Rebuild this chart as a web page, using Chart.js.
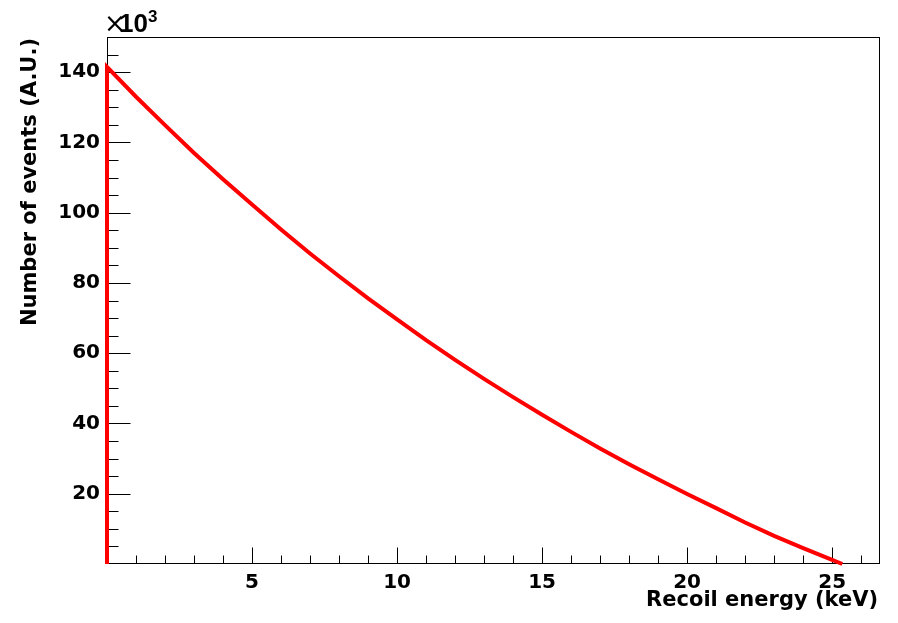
<!DOCTYPE html>
<html>
<head>
<meta charset="utf-8">
<script src="https://cdn.jsdelivr.net/npm/chart.js@4"></script>
<style>
  html, body { margin: 0; padding: 0; background: #fff; }
  #wrap { width: 898px; height: 623px; }
</style>
</head>
<body>
<div id="wrap"><canvas id="c" width="898" height="623"></canvas></div>
<script>
// ---- data ----
const energy = [0, 0, 1, 2, 3, 4, 5, 6, 7, 8, 9, 10, 11, 12, 13, 14, 15, 16, 17, 18, 19, 20, 21, 22, 23, 24, 25, 25.35];
const events = [0, 141.5, 133.0, 124.9, 117.0, 109.5, 102.3, 95.2, 88.4, 81.9, 75.6, 69.6, 63.7, 58.1, 52.7, 47.5, 42.5, 37.6, 32.9, 28.4, 24.1, 19.9, 15.9, 11.8, 8.0, 4.5, 1.2, 0];
const xTickLabels = [5, 10, 15, 20, 25];
const yTickLabels = [20, 40, 60, 80, 100, 120, 140];
const xRange = [0, 26.65];
const yRange = [0, 150];
const xMinorStep = 1;
const yMinorStep = 5;
const xTitle = 'Recoil energy (keV)';
const yTitle = 'Number of events (A.U.)';

const points = energy.map((e, i) => ({ x: e, y: events[i] }));

const frameAndTicks = {
  id: 'frameAndTicks',
  beforeDatasetsDraw(chart) {
    const { ctx, chartArea: a, scales: { x, y } } = chart;
    ctx.save();
    ctx.strokeStyle = '#000';
    ctx.lineWidth = 1;
    const L = Math.round(a.left) + 0.5, R = Math.round(a.right) - 0.5;
    const T = Math.round(a.top) + 0.5, B = Math.round(a.bottom) - 0.5;
    ctx.strokeRect(L, T, R - L, B - T);
    ctx.beginPath();
    for (let v = xRange[0] + xMinorStep; v <= xRange[1]; v += xMinorStep) {
      const px = Math.round(x.getPixelForValue(v)) + 0.5;
      const len = xTickLabels.includes(v) ? 16 : 8;
      ctx.moveTo(px, B); ctx.lineTo(px, B - len);
    }
    for (let v = yRange[0] + yMinorStep; v < yRange[1]; v += yMinorStep) {
      const py = Math.round(y.getPixelForValue(v)) + 0.5;
      const len = yTickLabels.includes(v) ? 23 : 11;
      ctx.moveTo(L, py); ctx.lineTo(L + len, py);
    }
    ctx.stroke();
    ctx.restore();
  },
  afterDraw(chart) {
    const { ctx, chartArea: a } = chart;
    ctx.save();
    ctx.fillStyle = '#000';
    // x title
    ctx.font = 'bold 21px "DejaVu Sans"';
    ctx.textAlign = 'right';
    ctx.textBaseline = 'alphabetic';
    ctx.fillText(xTitle, a.right - 2, 606);
    // y title
    ctx.save();
    ctx.translate(36, a.top + 1);
    ctx.rotate(-Math.PI / 2);
    ctx.textAlign = 'right';
    ctx.fillText(yTitle, 0, 0);
    ctx.restore();
    // x10^3 multiplier
    ctx.textAlign = 'left';
    ctx.font = '26px "DejaVu Sans"';
    ctx.fillText('\u00D7', 104, 32);
    ctx.font = 'bold 26px "Liberation Sans"';
    ctx.fillText('10', 119, 32);
    ctx.font = 'bold 17px "Liberation Sans"';
    ctx.fillText('3', 148, 22);
    ctx.restore();
  }
};

new Chart(document.getElementById('c'), {
  type: 'line',
  data: {
    datasets: [{
      data: points,
      borderColor: '#ff0000',
      borderWidth: 4,
      pointRadius: 0,
      tension: 0,
      fill: false,
      clip: false
    }]
  },
  options: {
    responsive: false,
    animation: false,
    events: [],
    layout: { padding: { left: 0, top: 37, right: 18, bottom: 0 } },
    plugins: { legend: { display: false }, tooltip: { enabled: false } },
    scales: {
      x: {
        type: 'linear',
        min: xRange[0], max: xRange[1],
        grid: { display: false, drawTicks: false },
        border: { display: false },
        afterBuildTicks: s => { s.ticks = xTickLabels.map(v => ({ value: v })); },
        afterFit: s => { s.height = 59; },
        ticks: {
          padding: 7,
          maxRotation: 0,
          color: '#000',
          font: { family: 'DejaVu Sans', weight: 'bold', size: 20 },
          callback: v => String(v)
        }
      },
      y: {
        type: 'linear',
        min: yRange[0], max: yRange[1],
        grid: { display: false, drawTicks: false },
        border: { display: false },
        afterBuildTicks: s => { s.ticks = yTickLabels.map(v => ({ value: v })); },
        afterFit: s => { s.width = 107; },
        ticks: {
          padding: 7,
          color: '#000',
          font: { family: 'DejaVu Sans', weight: 'bold', size: 20 },
          callback: v => String(v)
        }
      }
    }
  },
  plugins: [frameAndTicks]
});
</script>
</body>
</html>
